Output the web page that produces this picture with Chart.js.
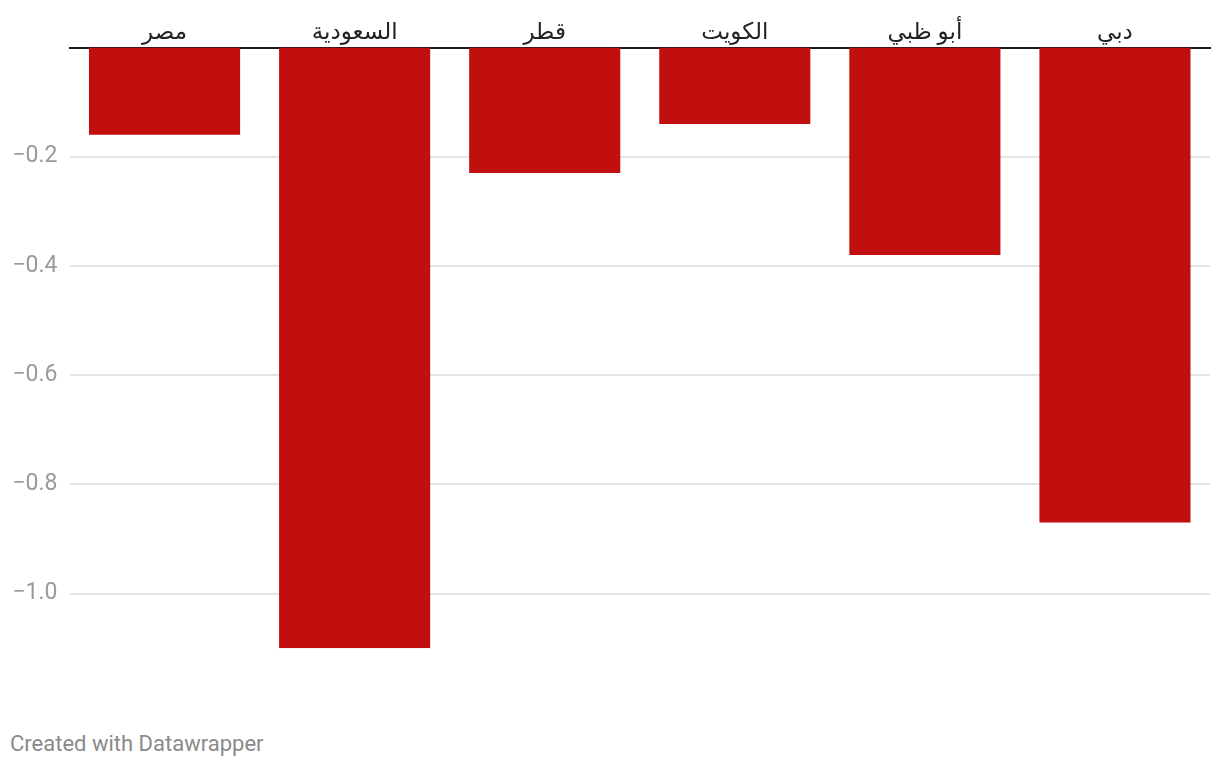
<!DOCTYPE html>
<html>
<head>
    <meta charset="UTF-8">
    <title>Chart</title>
    <script src="https://cdn.jsdelivr.net/npm/chart.js"></script>
    <style>
        body {
            margin: 0;
            background: #fff;
            width: 1220px;
            height: 768px;
            overflow: hidden;
            font-family: Roboto, "Noto Sans", "DejaVu Sans", sans-serif;
        }
        .chart-box {
            position: absolute;
            left: 0;
            top: 0;
            width: 1220px;
            height: 674px;
        }
        .footer {
            position: absolute;
            left: 10px;
            top: 731px;
            font-size: 22px;
            color: #8a8a8a;
        }
    </style>
</head>
<body>
<div class="chart-box"><canvas id="barChart"></canvas></div>
<div class="footer">Created with Datawrapper</div>
<script>
    const categories = ['مصر', 'السعودية', 'قطر', 'الكويت', 'أبو ظبي', 'دبي'];
    const values = [-0.16, -1.10, -0.23, -0.14, -0.38, -0.87];
    const yTicks = [-0.2, -0.4, -0.6, -0.8, -1.0];

    new Chart(document.getElementById('barChart'), {
        type: 'bar',
        data: {
            labels: categories,
            datasets: [{
                data: values,
                backgroundColor: '#c10f0f',
                borderWidth: 0,
                barPercentage: 0.795,
                categoryPercentage: 1
            }]
        },
        options: {
            responsive: true,
            maintainAspectRatio: false,
            animation: false,
            layout: { padding: { left: 0, right: 10, top: 0, bottom: 2 } },
            plugins: {
                legend: { display: false },
                tooltip: { enabled: false }
            },
            scales: {
                x: {
                    position: 'top',
                    grid: { display: false },
                    border: { display: true, color: '#1a1a1a', width: 2 },
                    ticks: {
                        color: '#222',
                        padding: -8,
                        font: { family: 'Roboto, "Noto Sans", "DejaVu Sans"', size: 23 }
                    },
                    afterFit: scale => { scale.height = 47.5; }
                },
                y: {
                    min: -1.1,
                    max: 0,
                    afterBuildTicks: scale => {
                        scale.ticks = yTicks.map(v => ({ value: v }));
                    },
                    afterFit: scale => { scale.width = 69.5; },
                    grid: { color: '#e4e4e4', lineWidth: 2, drawTicks: false },
                    border: { display: false },
                    ticks: {
                        color: '#9a9a9a',
                        padding: 12,
                        font: { family: 'Roboto', size: 23 },
                        callback: v => '\u2212' + Math.abs(v).toFixed(1)
                    }
                }
            }
        }
    });
</script>
</body>
</html>
